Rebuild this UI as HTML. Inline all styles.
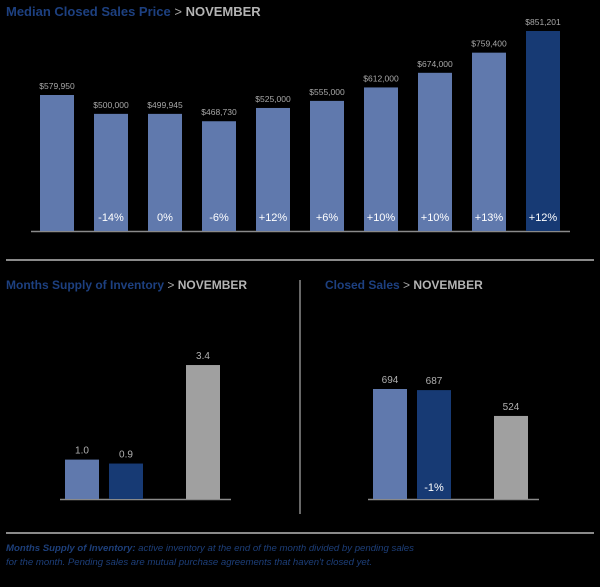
<!DOCTYPE html>
<html><head><meta charset="utf-8"><style>
body{margin:0;background:#000;width:600px;height:587px;overflow:hidden;font-family:"Liberation Sans",sans-serif}
svg{display:block}
</style></head><body>
<svg width="600" height="587">
<g id="top"></g>
<g id="bl"></g>
<g id="br"></g>
<text x="6" y="16" font-size="13" font-weight="bold" fill="#1d4080">Median Closed Sales Price <tspan fill="#a8a8a8" font-weight="normal">&gt;</tspan> <tspan fill="#b4b4b4">NOVEMBER</tspan></text>
<line x1="6" y1="260" x2="594" y2="260" stroke="#8a8a8a" stroke-width="2"/>
<text x="6" y="289" font-size="12" font-weight="bold" fill="#1d4080">Months Supply of Inventory <tspan fill="#a8a8a8" font-weight="normal">&gt;</tspan> <tspan fill="#b4b4b4">NOVEMBER</tspan></text>
<text x="325" y="289" font-size="12" font-weight="bold" fill="#1d4080">Closed Sales <tspan fill="#a8a8a8" font-weight="normal">&gt;</tspan> <tspan fill="#b4b4b4">NOVEMBER</tspan></text>
<line x1="300" y1="280" x2="300" y2="514" stroke="#8a8a8a" stroke-width="1.5"/>
<line x1="6" y1="533" x2="594" y2="533" stroke="#8a8a8a" stroke-width="2"/>
<text x="6" y="551" font-size="9.6" font-style="italic" fill="#1d3f7a"><tspan font-weight="bold">Months Supply of Inventory:</tspan> active inventory at the end of the month divided by pending sales</text>
<text x="6" y="565" font-size="9.6" font-style="italic" fill="#1d3f7a">for the month. Pending sales are mutual purchase agreements that haven't closed yet.</text>
</svg>
<script>
const topValues=[579950,500000,499945,468730,525000,555000,612000,674000,759400,851201];
const topLabels=["$579,950","$500,000","$499,945","$468,730","$525,000","$555,000","$612,000","$674,000","$759,400","$851,201"];
const topChanges=["","-14%","0%","-6%","+12%","+6%","+10%","+10%","+13%","+12%"];
const supplyValues=[1.0,0.9,3.4];
const supplyLabels=["1.0","0.9","3.4"];
const salesValues=[694,687,524];
const salesLabels=["694","687","524"];
const salesChanges=["","-1%",""];
const NS="http://www.w3.org/2000/svg";
function mk(p,t,a){const e=document.createElementNS(NS,t);for(const k in a)e.setAttribute(k,a[k]);p.appendChild(e);return e;}
// top
const gt=document.getElementById('top');
const tb=231,tk=64/271251,tref=579950,tTop=95;
const ty=v=>tTop+(tref-v)*tk;
const tl=mk(gt,'line',{x1:31,y1:tb+0.5,x2:570,y2:tb+0.5,stroke:'#8a8a8a','stroke-width':1.5});


topValues.forEach((v,i)=>{
 const x=40+i*54,y=ty(v);
 const r=mk(gt,'rect',{x:x,y:y,width:34,height:tb-y,fill:i==9?'#173a74':'#6079ad'});
 
 
 const t=mk(gt,'text',{x:x+17,y:y-6,'font-size':8.5,fill:'#a8a8a8','text-anchor':'middle'});t.textContent=topLabels[i];
 
 
 if(topChanges[i]){const c=mk(gt,'text',{x:x+17,y:221,'font-size':11,fill:'#fff','text-anchor':'middle'});c.textContent=topChanges[i];
 
 }
});
function small(g,vals,labels,changes,x0,k,name){
 const base=499;
 const l=mk(g,'line',{x1:x0-5,y1:base+0.5,x2:x0+166,y2:base+0.5,stroke:'#8a8a8a','stroke-width':1.5});
 
 
 const xs=[x0,x0+44,x0+121],cols=['#6079ad','#173a74','#a0a0a0'];
 vals.forEach((v,i)=>{
  const y=base-v*k;
  const r=mk(g,'rect',{x:xs[i],y:y,width:34,height:v*k,fill:cols[i]});
  
  
  const t=mk(g,'text',{x:xs[i]+17,y:y-6,'font-size':10,fill:'#b0b0b0','text-anchor':'middle'});t.textContent=labels[i];
  
  
  if(changes&&changes[i]){const c=mk(g,'text',{x:xs[i]+17,y:491,'font-size':11,fill:'#fff','text-anchor':'middle'});c.textContent=changes[i];
  
  }
 });
}
small(document.getElementById('bl'),supplyValues,supplyLabels,null,65,39.4,'supply');
small(document.getElementById('br'),salesValues,salesLabels,salesChanges,373,0.1585,'sales');
</script>
</body></html>
